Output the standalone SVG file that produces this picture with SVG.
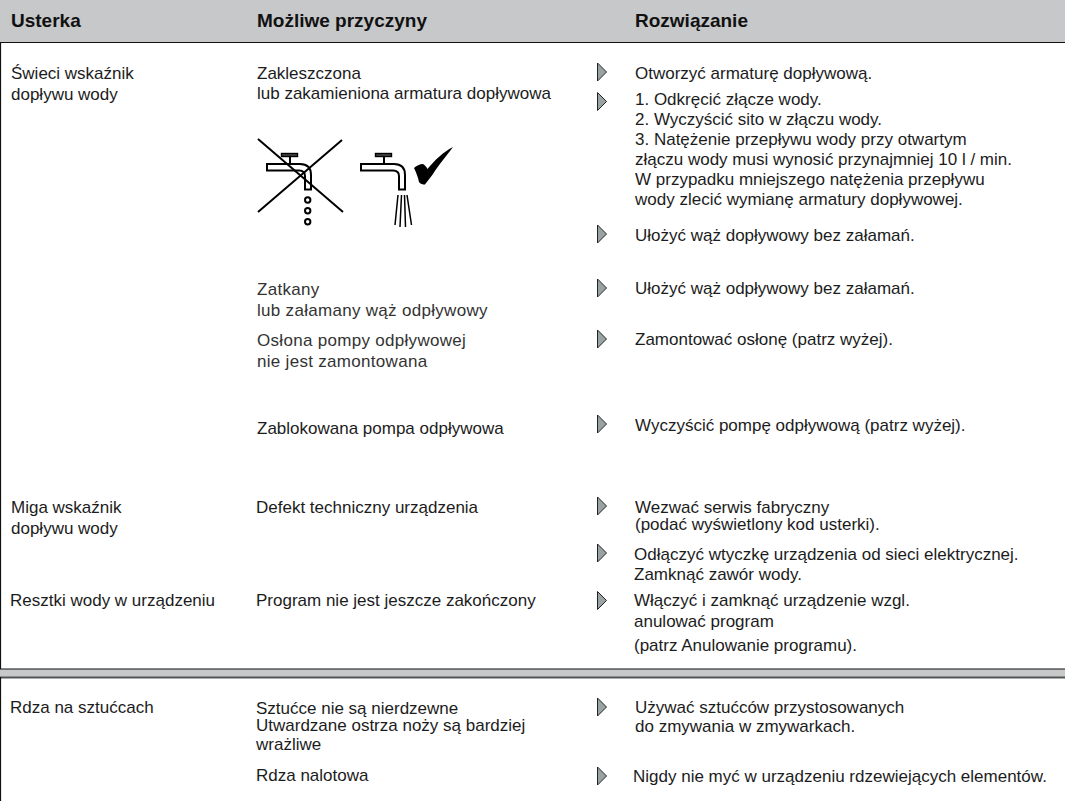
<svg xmlns="http://www.w3.org/2000/svg" width="1065" height="801" viewBox="0 0 1065 801">
<style>
text{font-family:"Liberation Sans",Arial,sans-serif;font-size:17px;fill:#1c1c1c}
.h{font-weight:bold;font-size:19px;fill:#111}
.g{fill:#333;letter-spacing:.3px}
.ic{fill:none;stroke:#000;stroke-width:2}
.th{fill:none;stroke:#000;stroke-width:1.500}
</style>
<defs>
<polygon id="arr" points="0,0 9,9 0,18" fill="#9aa3a3" stroke="#222" stroke-width="1"/>
<g id="tap">
<path class="ic" d="M7,20H40C47,20 51,24 51,31V45.500H45V32C45,28 43,26.500 39,26.500H7Z"/>
<path class="ic" d="M30,12V20"/>
<rect x="21.500" y="9.500" width="16" height="3" fill="#444" stroke="#000" stroke-width="1.400"/>
</g>
</defs>
<rect x="0" y="0" width="1065" height="42" fill="#c6c8ca"/>
<rect x="0" y="669" width="1065" height="8" fill="#c6c8ca"/>
<g id="frame" fill="none" stroke="#111">
<path d="M0,42.500H1065" stroke-width="1.200"/>
<path d="M0.500,42V669" stroke-width="1.200"/>
<path d="M0,669H1065" stroke-width="1.200"/>
<path d="M0,677.500H1065" stroke="#555" stroke-width="1.800"/>
<path d="M0.500,677V801" stroke-width="1.200"/>
</g>
<g id="headers">
<text class="h" x="11" y="27">Usterka</text>
<text class="h" x="257" y="27">Możliwe przyczyny</text>
<text class="h" x="635" y="27">Rozwiązanie</text>
</g>
<g id="col1">
<text x="11" y="78.500">Świeci wskaźnik</text>
<text x="11" y="99.500">dopływu wody</text>
<text x="11" y="513">Miga wskaźnik</text>
<text x="11" y="534">dopływu wody</text>
<text x="10" y="606">Resztki wody w urządzeniu</text>
<text x="10" y="713">Rdza na sztućcach</text>
</g>
<g id="col2">
<text x="257" y="79">Zakleszczona</text>
<text x="257" y="99">lub zakamieniona armatura dopływowa</text>
<text x="257" y="295" class="g">Zatkany</text>
<text x="257" y="315.500" class="g">lub załamany wąż odpływowy</text>
<text x="257" y="346" class="g">Osłona pompy odpływowej</text>
<text x="257" y="366.500" class="g">nie jest zamontowana</text>
<text x="257" y="434">Zablokowana pompa odpływowa</text>
<text x="256" y="513">Defekt techniczny urządzenia</text>
<text x="256" y="606">Program nie jest jeszcze zakończony</text>
<text x="256" y="713.500">Sztućce nie są nierdzewne</text>
<text x="256" y="730.500">Utwardzane ostrza noży są bardziej</text>
<text x="256" y="750">wrażliwe</text>
<text x="256" y="781">Rdza nalotowa</text>
</g>
<g id="col3">
<text x="635" y="78.500">Otworzyć armaturę dopływową.</text>
<text x="635" y="105">1. Odkręcić złącze wody.</text>
<text x="635" y="125">2. Wyczyścić sito w złączu wody.</text>
<text x="635" y="145">3. Natężenie przepływu wody przy otwartym</text>
<text x="635" y="164.500">złączu wody musi wynosić przynajmniej 10 l / min.</text>
<text x="635" y="185">W przypadku mniejszego natężenia przepływu</text>
<text x="635" y="204.500">wody zlecić wymianę armatury dopływowej.</text>
<text x="635" y="240.500">Ułożyć wąż dopływowy bez załamań.</text>
<text x="635" y="294">Ułożyć wąż odpływowy bez załamań.</text>
<text x="635" y="345">Zamontować osłonę (patrz wyżej).</text>
<text x="635" y="431">Wyczyścić pompę odpływową (patrz wyżej).</text>
<text x="635" y="512.500">Wezwać serwis fabryczny</text>
<text x="635" y="530">(podać wyświetlony kod usterki).</text>
<text x="634" y="560">Odłączyć wtyczkę urządzenia od sieci elektrycznej.</text>
<text x="634" y="580">Zamknąć zawór wody.</text>
<text x="634" y="606">Włączyć i zamknąć urządzenie wzgl.</text>
<text x="634" y="626.500">anulować program</text>
<text x="634" y="650.500">(patrz Anulowanie programu).</text>
<text x="635" y="712.500">Używać sztućców przystosowanych</text>
<text x="635" y="732">do zmywania w zmywarkach.</text>
<text x="633" y="781.500">Nigdy nie myć w urządzeniu rdzewiejących elementów.</text>
</g>
<g id="arrows">
<use href="#arr" x="597.500" y="63"/>
<use href="#arr" x="597.500" y="92.500"/>
<use href="#arr" x="597.500" y="225"/>
<use href="#arr" x="597.500" y="279"/>
<use href="#arr" x="597.500" y="330"/>
<use href="#arr" x="597.500" y="415"/>
<use href="#arr" x="597.500" y="497"/>
<use href="#arr" x="597.500" y="544"/>
<use href="#arr" x="597.500" y="591.500"/>
<use href="#arr" x="597.500" y="698"/>
<use href="#arr" x="597.500" y="767"/>
</g>
<g id="tap-bad">
<use href="#tap" x="260" y="144"/>
<path class="ic" d="M258,139L343,212M342,140L258,212" stroke-width="1.600"/>
<circle class="ic" cx="307.700" cy="200" r="2.700" stroke-width="1.500"/>
<circle class="ic" cx="307.700" cy="210.800" r="2.700" stroke-width="1.500"/>
<circle class="ic" cx="307.700" cy="221.700" r="2.700" stroke-width="1.500"/>
</g>
<g id="tap-good">
<use href="#tap" x="354" y="144"/>
<path class="th" d="M398,195L395,225M401.500,195L400,227M404.500,195L405.500,227M407,195L411.500,225"/>
<path d="M414,168C416,166 420,164 423,164C425,165 426.500,167 427.500,169C434,161 443,152 453,147C447,155 438,166 433,174C430,178 427,182 425,184.500C423,184.500 420,184 419,182C418,177 416,172 414,168Z" fill="#000"/>
</g>
</svg>
